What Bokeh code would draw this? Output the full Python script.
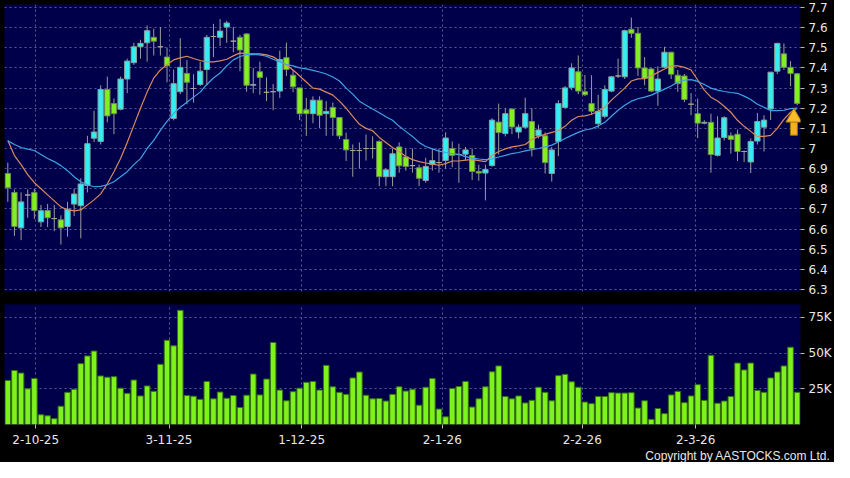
from bokeh.plotting import figure
from bokeh.models import (ColumnDataSource, Range1d, FixedTicker, CustomJSTickFormatter, Title)
from bokeh.layouts import column
from bokeh.embed import file_html
from bokeh.resources import INLINE

# ---------------- data ----------------
opens = [6.876, 6.782, 6.606, 6.769, 6.782, 6.636, 6.692, 6.652, 6.646, 6.613,
         6.724, 6.716, 6.816, 7.051, 7.035, 7.293, 7.223, 7.195, 7.345, 7.426,
         7.505, 7.525, 7.552, 7.505, 7.454, 7.149, 7.282, 7.373, 7.298, 7.318,
         7.392, 7.556, 7.552, 7.603, 7.533, 7.552, 7.569, 7.314, 7.381, 7.279,
         7.282, 7.285, 7.451, 7.364, 7.301, 7.192, 7.173, 7.240, 7.173, 7.204,
         7.154, 7.045, 6.990, 6.990, 7.000, 7.000, 7.035, 6.860, 6.860, 7.008,
         6.958, 6.915, 6.904, 6.841, 6.920, 6.930, 6.941, 7.000, 6.970, 6.972,
         6.965, 6.886, 6.878, 6.915, 7.131, 7.074, 7.196, 7.082, 7.106, 7.134,
         7.063, 7.063, 6.876, 7.035, 7.204, 7.303, 7.381, 7.282, 7.223, 7.123,
         7.160, 7.285, 7.360, 7.356, 7.592, 7.572, 7.400, 7.395, 7.285, 7.404,
         7.478, 7.364, 7.360, 7.220, 7.173, 7.126, 7.130, 6.966, 7.055, 7.063,
         7.071, 6.985, 6.933, 7.037, 7.106, 7.196, 7.384, 7.470, 7.403, 7.371]
highs = [6.930, 6.797, 6.782, 6.797, 6.800, 6.720, 6.725, 6.720, 6.668, 6.735,
         6.800, 6.852, 7.063, 7.188, 7.314, 7.357, 7.248, 7.357, 7.446, 7.525,
         7.540, 7.611, 7.595, 7.603, 7.501, 7.392, 7.548, 7.439, 7.369, 7.431,
         7.564, 7.619, 7.642, 7.634, 7.603, 7.564, 7.572, 7.400, 7.431, 7.353,
         7.320, 7.486, 7.525, 7.390, 7.301, 7.251, 7.259, 7.259, 7.235, 7.228,
         7.154, 7.079, 7.020, 7.030, 7.070, 7.060, 7.040, 6.900, 7.000, 7.030,
         7.000, 7.000, 6.920, 6.954, 7.000, 7.000, 7.080, 7.035, 7.024, 7.008,
         7.000, 6.920, 6.920, 7.150, 7.223, 7.200, 7.200, 7.120, 7.252, 7.200,
         7.118, 7.080, 7.008, 7.240, 7.310, 7.423, 7.462, 7.365, 7.364, 7.267,
         7.314, 7.360, 7.446, 7.590, 7.650, 7.603, 7.454, 7.400, 7.408, 7.505,
         7.480, 7.390, 7.370, 7.275, 7.248, 7.140, 7.173, 7.160, 7.160, 7.080,
         7.094, 6.990, 7.050, 7.176, 7.165, 7.380, 7.525, 7.522, 7.434, 7.375]
lows = [6.735, 6.566, 6.545, 6.656, 6.650, 6.610, 6.610, 6.590, 6.523, 6.562,
        6.664, 6.554, 6.782, 7.032, 7.020, 7.130, 7.071, 7.190, 7.275, 7.415,
        7.446, 7.431, 7.462, 7.462, 7.329, 7.140, 7.270, 7.220, 7.228, 7.310,
        7.314, 7.454, 7.509, 7.525, 7.478, 7.384, 7.282, 7.275, 7.267, 7.235,
        7.190, 7.251, 7.360, 7.280, 7.141, 7.063, 7.126, 7.102, 7.063, 7.063,
        7.047, 6.938, 6.860, 6.900, 6.940, 6.950, 6.813, 6.813, 6.813, 6.880,
        6.890, 6.880, 6.813, 6.830, 6.890, 6.880, 6.900, 6.907, 6.830, 6.940,
        6.844, 6.840, 6.742, 6.910, 6.970, 7.060, 7.071, 7.050, 7.100, 6.960,
        7.050, 6.876, 6.836, 6.962, 7.200, 7.290, 7.270, 7.260, 7.170, 7.100,
        7.150, 7.280, 7.350, 7.345, 7.550, 7.360, 7.314, 7.280, 7.212, 7.400,
        7.345, 7.282, 7.230, 7.165, 7.052, 7.120, 6.880, 6.960, 7.040, 6.974,
        6.938, 6.933, 6.878, 7.020, 6.985, 7.141, 7.370, 7.390, 7.310, 7.215]
closes = [6.805, 6.613, 6.735, 6.769, 6.692, 6.691, 6.656, 6.652, 6.606, 6.699,
          6.774, 6.824, 7.024, 7.082, 7.293, 7.162, 7.173, 7.345, 7.434, 7.505,
          7.522, 7.585, 7.533, 7.505, 7.411, 7.322, 7.403, 7.329, 7.298, 7.384,
          7.552, 7.556, 7.583, 7.623, 7.533, 7.489, 7.314, 7.318, 7.353, 7.279,
          7.282, 7.442, 7.392, 7.306, 7.173, 7.173, 7.240, 7.165, 7.184, 7.154,
          7.063, 6.993, 6.990, 6.990, 7.000, 7.000, 6.860, 6.894, 6.974, 6.914,
          6.911, 6.915, 6.852, 6.911, 6.940, 6.930, 7.052, 6.966, 6.970, 6.993,
          6.886, 6.878, 6.896, 7.141, 7.079, 7.173, 7.107, 7.106, 7.173, 7.000,
          7.092, 6.930, 6.993, 7.223, 7.301, 7.400, 7.285, 7.267, 7.185, 7.185,
          7.293, 7.356, 7.360, 7.585, 7.572, 7.400, 7.348, 7.285, 7.345, 7.478,
          7.369, 7.322, 7.243, 7.220, 7.126, 7.130, 6.970, 7.052, 7.153, 7.045,
          6.985, 6.985, 7.035, 7.134, 7.141, 7.379, 7.522, 7.403, 7.373, 7.224]
ma_short = [7.040, 6.965, 6.920, 6.870, 6.830, 6.800, 6.770, 6.740, 6.710, 6.695,
            6.690, 6.695, 6.720, 6.745, 6.775, 6.825, 6.885, 6.950, 7.030, 7.115,
            7.200, 7.280, 7.350, 7.390, 7.417, 7.440, 7.450, 7.458, 7.447, 7.437,
            7.430, 7.430, 7.435, 7.443, 7.460, 7.475, 7.470, 7.470, 7.470, 7.465,
            7.455, 7.435, 7.415, 7.390, 7.360, 7.330, 7.300, 7.295, 7.280, 7.265,
            7.235, 7.200, 7.160, 7.120, 7.100, 7.088, 7.055, 7.030, 7.005, 6.985,
            6.960, 6.945, 6.935, 6.928, 6.922, 6.917, 6.925, 6.938, 6.938, 6.942,
            6.945, 6.940, 6.935, 6.965, 6.985, 6.998, 7.008, 7.013, 7.020, 7.045,
            7.060, 7.070, 7.080, 7.088, 7.110, 7.140, 7.159, 7.162, 7.170, 7.185,
            7.205, 7.240, 7.270, 7.300, 7.335, 7.346, 7.347, 7.360, 7.378, 7.395,
            7.410, 7.410, 7.403, 7.390, 7.340, 7.290, 7.255, 7.236, 7.210, 7.180,
            7.140, 7.110, 7.085, 7.060, 7.060, 7.065, 7.100, 7.145, 7.180, 7.200]
ma_long = [7.038, 7.020, 7.005, 6.997, 6.990, 6.970, 6.950, 6.935, 6.915, 6.890,
           6.860, 6.835, 6.820, 6.810, 6.812, 6.820, 6.835, 6.860, 6.885, 6.920,
           6.950, 7.000, 7.040, 7.090, 7.135, 7.175, 7.205, 7.230, 7.255, 7.280,
           7.318, 7.350, 7.375, 7.410, 7.440, 7.457, 7.466, 7.467, 7.465, 7.458,
           7.443, 7.430, 7.417, 7.410, 7.400, 7.395, 7.388, 7.380, 7.370, 7.355,
           7.335, 7.300, 7.270, 7.235, 7.215, 7.196, 7.178, 7.158, 7.140, 7.110,
           7.085, 7.060, 7.030, 7.010, 6.998, 6.987, 6.980, 6.975, 6.971, 6.960,
           6.952, 6.948, 6.945, 6.948, 6.958, 6.966, 6.975, 6.980, 6.988, 6.994,
           7.000, 7.008, 7.017, 7.032, 7.050, 7.065, 7.080, 7.092, 7.098, 7.112,
           7.130, 7.160, 7.190, 7.215, 7.235, 7.247, 7.255, 7.265, 7.280, 7.295,
           7.310, 7.330, 7.340, 7.342, 7.333, 7.318, 7.300, 7.290, 7.283, 7.278,
           7.274, 7.260, 7.243, 7.220, 7.205, 7.188, 7.188, 7.190, 7.198, 7.200]
volume_k = [30.8, 37.8, 36.0, 25.0, 32.2, 6.8, 6.1, 4.1, 12.8, 22.5,
            24.7, 42.6, 48.0, 51.4, 34.0, 33.1, 33.5, 25.4, 21.8, 31.1,
            20.0, 27.0, 23.2, 42.1, 59.0, 55.1, 79.9, 20.3, 19.8, 17.6,
            30.1, 18.0, 22.7, 18.4, 20.3, 11.9, 20.5, 35.3, 20.7, 31.8,
            57.4, 24.1, 16.6, 23.0, 25.4, 29.5, 30.1, 24.1, 41.4, 26.4,
            22.5, 21.1, 32.6, 36.7, 20.5, 18.0, 18.2, 16.4, 21.1, 26.4,
            23.4, 24.7, 13.5, 26.1, 32.2, 10.8, 5.4, 25.2, 26.6, 30.1,
            12.2, 18.0, 26.4, 36.9, 41.0, 19.6, 18.0, 20.0, 15.1, 16.9,
            26.1, 22.5, 16.6, 34.2, 35.1, 29.9, 26.1, 15.7, 14.6, 19.6,
            19.6, 22.3, 22.0, 22.0, 22.3, 11.5, 16.6, 3.6, 11.2, 7.6,
            20.7, 23.2, 15.3, 20.0, 27.9, 16.9, 48.4, 14.9, 16.4, 19.6,
            43.0, 38.2, 43.0, 23.9, 22.5, 32.6, 36.7, 41.0, 54.1, 22.5]

date_tick_index = [4.2, 24.3, 44.3, 65.5, 86.6, 103.7]
date_tick_labels = ["2-10-25", "3-11-25", "1-12-25", "2-1-26", "2-2-26", "2-3-26"]
price_ticks = [6.3, 6.4, 6.5, 6.6, 6.7, 6.8, 6.9, 7.0, 7.1, 7.2, 7.3, 7.4, 7.5, 7.6, 7.7]
price_tick_labels = ["6.3", "6.4", "6.5", "6.6", "6.7", "6.8", "6.9", "7",
                     "7.1", "7.2", "7.3", "7.4", "7.5", "7.6", "7.7"]
volume_ticks = [25000, 50000, 75000]
volume_tick_labels = ["25K", "50K", "75K"]

# ---------------- style ----------------
NAVY = "#00004a"
GRID = "#5a5a98"
UP = "#33eef2"
DOWN = "#82f01e"
DOJI = "#a8a48c"
TXT = "#e8e8e8"
FONT = "DejaVu Sans"

n = len(closes)
idx = list(range(n))
body_top, body_bot, fill, outline = [], [], [], []
for o, c in zip(opens, closes):
    body_top.append(max(o, c))
    body_bot.append(min(o, c))
    if c > o:
        fill.append(UP); outline.append("#8a9c9c")
    elif c < o:
        fill.append(DOWN); outline.append("#6f8a5a")
    else:
        fill.append(DOJI); outline.append(DOJI)

src = ColumnDataSource(dict(x=idx, high=highs, low=lows, top=body_top, bottom=body_bot,
                            fill=fill, outline=outline, ma_s=ma_short, ma_l=ma_long,
                            vol=[v * 1000 for v in volume_k]))

xr = Range1d(-0.5, n - 0.5)

def lookup_formatter(ticks, labels):
    return CustomJSTickFormatter(args=dict(tv=ticks, lb=labels),
        code="const i = tv.findIndex(t => Math.abs(t - tick) < 1e-6); return i >= 0 ? lb[i] : '';")

def style_axis(a):
    a.axis_line_color = None
    a.major_tick_line_color = "#bbbbbb"
    a.major_tick_out = 4
    a.major_tick_in = 0
    a.minor_tick_line_color = None
    a.major_label_text_color = TXT
    a.major_label_text_font = FONT
    a.major_label_text_font_size = "12px"
    a.major_label_standoff = 4

def style_grid(g):
    g.grid_line_color = GRID
    g.grid_line_dash = "2 3"
    g.grid_line_width = 1

# ---------------- price panel ----------------
p1 = figure(width=834, height=300, x_range=xr, y_range=Range1d(6.29, 7.715),
            x_axis_location=None, y_axis_location="right",
            output_backend="svg", toolbar_location=None,
            background_fill_color=NAVY, border_fill_color="black",
            outline_line_color=None, min_border_left=4, min_border_right=33,
            min_border_top=4, min_border_bottom=9)

p1.xgrid.ticker = FixedTicker(ticks=date_tick_index)
p1.ygrid.ticker = FixedTicker(ticks=price_ticks)
style_grid(p1.xgrid)
style_grid(p1.ygrid)

ax = p1.yaxis[0]
ax.ticker = FixedTicker(ticks=price_ticks)
ax.formatter = lookup_formatter(price_ticks, price_tick_labels)
style_axis(ax)

p1.segment(x0="x", y0="low", x1="x", y1="high", source=src, line_color="#9c9c9c", line_width=1)
p1.vbar(x="x", width=0.8, top="top", bottom="bottom", source=src,
        fill_color="fill", line_color="outline", line_width=1)
p1.line("x", "ma_s", source=src, line_color="#d98a5c", line_width=1.2)
p1.line("x", "ma_l", source=src, line_color="#3ea2e6", line_width=1.2)

# up-arrow marker under the latest bar
ax_x = n - 1.5
tip = lows[-1] - 0.035
p1.rect(x=[ax_x], y=[tip - 0.078], width=7, width_units="screen", height=0.072,
        fill_color="#f2b21e", line_color="#a87200", line_width=1)
p1.scatter(x=[ax_x], y=[tip - 0.026], marker="triangle", size=16,
           fill_color="#f7bd2a", line_color="#a87200", line_width=1)

# ---------------- volume panel ----------------
p2 = figure(width=834, height=162, x_range=xr, y_range=Range1d(0, 84000),
            y_axis_location="right",
            output_backend="svg", toolbar_location=None,
            background_fill_color=NAVY, border_fill_color="black",
            outline_line_color=None, min_border_left=4, min_border_right=33,
            min_border_top=4, min_border_bottom=0)

p2.xgrid.ticker = FixedTicker(ticks=date_tick_index)
p2.ygrid.ticker = FixedTicker(ticks=volume_ticks)
style_grid(p2.xgrid)
style_grid(p2.ygrid)

vy = p2.yaxis[0]
vy.ticker = FixedTicker(ticks=volume_ticks)
vy.formatter = lookup_formatter(volume_ticks, volume_tick_labels)
vx = p2.xaxis[0]
vx.ticker = FixedTicker(ticks=date_tick_index)
vx.formatter = lookup_formatter(date_tick_index, date_tick_labels)
style_axis(vy)
style_axis(vx)
vx.major_label_standoff = 6

p2.vbar(x="x", width=0.84, top="vol", bottom=0, source=src,
        fill_color="#7ef21c", line_color="#356f12", line_width=1)

p2.add_layout(Title(text="Copyright by AASTOCKS.com Ltd.", align="right",
                    text_color=TXT, text_font="Liberation Sans",
                    text_font_size="12px", text_font_style="normal",
                    standoff=0, offset=-30), "below")

layout = column(p1, p2, spacing=0)
layout.styles = {"background-color": "black"}

open("out.html", "w").write(file_html(layout, INLINE))
